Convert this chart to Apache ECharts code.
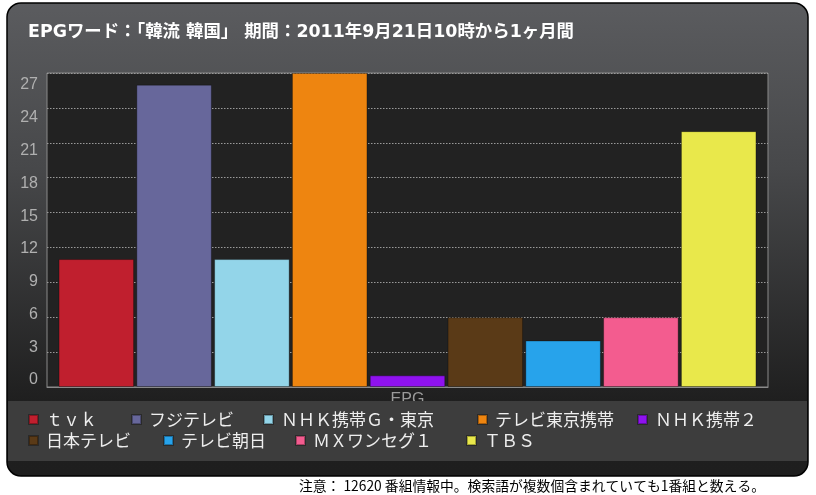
<!DOCTYPE html>
<html>
<head>
<meta charset="utf-8">
<script src="https://cdn.jsdelivr.net/npm/echarts@6/dist/echarts.min.js"></script>
<style>
html,body{margin:0;padding:0;background:#fff;}
#chart{width:816px;height:495px;}
</style>
</head>
<body>
<div id="chart"></div>
<script>
const titleText = 'EPGワード：「韓流 韓国」 期間：2011年9月21日10時から1ヶ月間';
const categories = ['EPG'];
const seriesNames = ['ｔｖｋ', 'フジテレビ', 'ＮＨＫ携帯Ｇ・東京', 'テレビ東京携帯', 'ＮＨＫ携帯２', '日本テレビ', 'テレビ朝日', 'ＭＸワンセグ１', 'ＴＢＳ'];
const seriesValues = [11, 26, 11, 27, 1, 6, 4, 6, 22];
const seriesColors = ['#c01f2e', '#67679b', '#93d5e9', '#ee8510', '#8f12ef', '#5a3a17', '#27a3eb', '#f35c8f', '#e9e84b'];
const yMin = 0, yMax = 27, yInterval = 3;
const footnote = '注意： 12620 番組情報中。検索語が複数個含まれていても1番組と数える。';

// legend layout (positions only)
const legendPos = [
  [28, 411], [131, 411], [263, 411], [477, 411], [637, 411],
  [28, 432], [163, 432], [295, 432], [466, 432]
];

const chart = echarts.init(document.getElementById('chart'));

const series = seriesNames.map((n, i) => ({
  name: n,
  type: 'bar',
  data: [seriesValues[i]],
  xAxisIndex: 0,
  yAxisIndex: 0,
  barGap: '3%',
  barCategoryGap: '3.2%',
  itemStyle: { color: seriesColors[i], borderColor: 'rgba(0,0,0,0.3)', borderWidth: 1 },
  z: 2
}));

const legends = seriesNames.map((n, i) => ({
  data: [n],
  left: legendPos[i][0],
  top: legendPos[i][1],
  padding: 0,
  itemGap: 0,
  itemWidth: 9,
  itemHeight: 9,
  icon: 'rect',
  selectedMode: false,
  z: 6,
  textStyle: { color: '#eeeeee', fontSize: 17, fontFamily: 'Noto Sans CJK JP', padding: [0, 0, 0, 3] }
}));

chart.setOption({
  backgroundColor: '#ffffff',
  animation: false,
  title: {
    text: titleText,
    left: 28,
    top: 24,
    padding: 0,
    textStyle: { color: '#ffffff', fontSize: 17.4, fontWeight: 'bold', fontFamily: '"DejaVu Sans", "Noto Sans CJK JP"' }
  },
  graphic: [
    {
      type: 'rect', z: -10, silent: true,
      shape: { x: 7, y: 3, width: 801, height: 473, r: 14 },
      style: {
        fill: new echarts.graphic.LinearGradient(0, 0, 0, 1, [
          { offset: 0, color: '#5b5c5f' },
          { offset: 0.35, color: '#47484a' },
          { offset: 0.84, color: '#1f1f1f' },
          { offset: 1, color: '#1e1e1e' }
        ]),
        stroke: '#000', lineWidth: 1.5
      }
    },
    {
      type: 'rect', z: 3, silent: true,
      shape: { x: 8, y: 401, width: 799, height: 60 },
      style: { fill: '#3d3d3d' }
    },
    {
      type: 'text', z: 3, silent: true,
      style: {
        text: footnote, x: 765, y: 486, align: 'right', verticalAlign: 'middle',
        font: '13.8px "Noto Sans CJK JP"', fill: '#000'
      }
    }
  ],
  legend: legends,
  grid: [
    {
      left: 47, right: 48, top: 73, bottom: 108,
      show: true, backgroundColor: '#222222', borderColor: '#8a8a8a', borderWidth: 1
    },
    { left: 47, right: 48, top: 85, bottom: 115, show: false }
  ],
  xAxis: [
    {
      type: 'category',
      gridIndex: 0,
      data: categories,
      axisLine: { show: true, lineStyle: { color: '#8a8a8a' } },
      axisTick: { show: false },
      axisLabel: { color: '#9a9a9a', fontSize: 16, fontFamily: 'Liberation Sans', margin: 5 }
    },
    {
      type: 'category', gridIndex: 1, data: categories, show: false
    }
  ],
  yAxis: [
    {
      type: 'value',
      gridIndex: 0,
      min: yMin, max: yMax, interval: yInterval,
      axisLine: { show: false },
      axisTick: { show: false },
      axisLabel: { show: false },
      splitLine: { show: true, lineStyle: { color: '#9a9a9a', type: [1.5, 1.5], width: 1 } }
    },
    {
      type: 'value',
      gridIndex: 1,
      min: yMin, max: yMax, interval: yInterval,
      axisLine: { show: false },
      axisTick: { show: false },
      splitLine: { show: false },
      axisLabel: { color: '#b0b0b0', fontSize: 16, fontFamily: 'Liberation Sans', margin: 9 }
    }
  ],
  series: series
});
</script>
</body>
</html>
